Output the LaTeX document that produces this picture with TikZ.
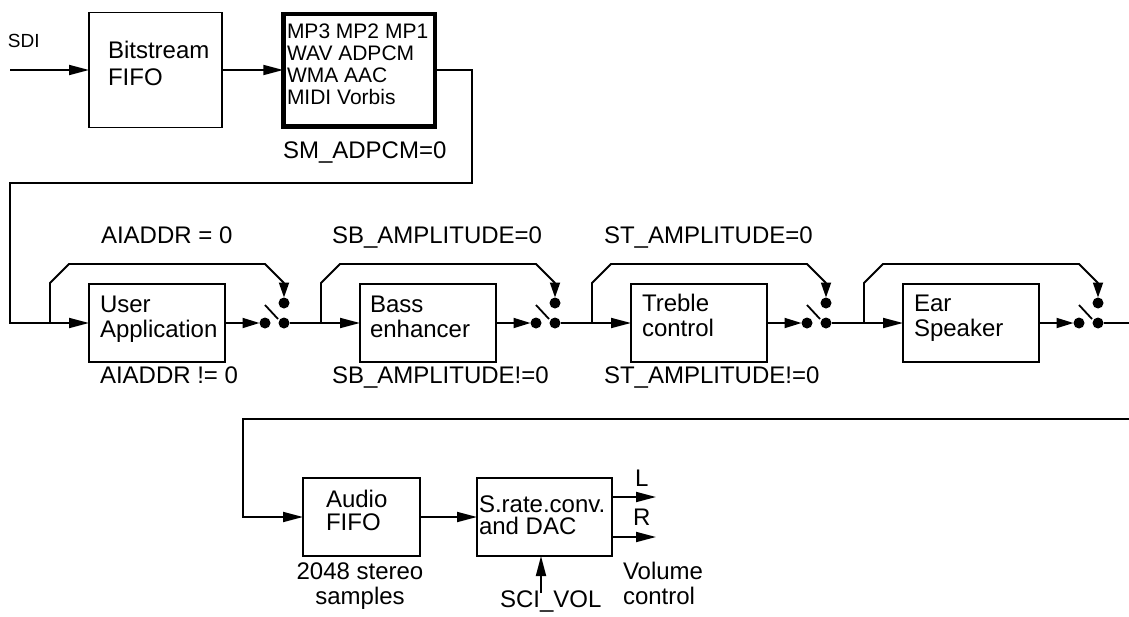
\documentclass[tikz,border=0pt]{standalone}
\usepackage{fontspec}
\setmainfont{Liberation Sans}
\usetikzlibrary{arrows.meta,calc}
\begin{document}
\begin{tikzpicture}[x=1pt,y=-1pt,line width=1.8pt,
  arr/.style={-{Triangle[length=20pt,width=10pt]}},
  darr/.style={-{Triangle[length=15pt,width=10pt]}},
  sarr/.style={-{Triangle[length=17pt,width=10pt]}},
  blk/.style={draw,line width=1.8pt,inner sep=0pt,outer sep=0pt,minimum width=136pt,minimum height=78pt},
  dot/.style={circle,fill=black,draw=none,inner sep=0pt,outer sep=0pt,minimum size=11pt},
  txt/.style={inner sep=0pt,outer sep=0pt,align=left,anchor=base west,font=\fontsize{24}{25}\selectfont},
  lbl/.style={inner sep=0pt,outer sep=0pt,anchor=base west,font=\fontsize{24}{25}\selectfont}]
\useasboundingbox (0,0) rectangle (1129,616);

% ---- top row ----
\coordinate (sdiin) at (10,70);
\node[lbl,font=\fontsize{19}{20}\selectfont] (sdi) at (8,47) {SDI};
\node[blk,minimum width=133pt,minimum height=115pt] (bf) at (155.5,70) {};
\node[txt,font=\fontsize{24}{27}\selectfont] (bft) at (108,85) {Bitstream\\FIFO};
\node[blk,line width=4.5pt,minimum width=151.5pt,minimum height=112.5pt] (codec) at (359,70) {};
\node[txt,font=\fontsize{21}{21.8}\selectfont] (codect) at (287,104) {MP3 MP2 MP1\\WAV ADPCM\\WMA AAC\\MIDI Vorbis};
\node[lbl] (sm) at (283,158) {SM\_ADPCM=0};
\draw[arr] (sdiin) -- (bf);
\draw[arr] (bf) -- (codec);

% ---- processing stages ----
\foreach \X/\n in {89/1,360/2,631/3,903/4}{
  \node[blk] (b\n) at (\X+68,323) {};
  \node[dot] (dL\n) at (\X+176,323) {};
  \node[dot] (dR\n) at (\X+195,323) {};
  \node[dot] (dU\n) at (\X+195,303) {};
  \coordinate (j\n) at (\X-39,323);
  \draw[sarr] (b\n.east) -- (dL\n.west);
  \draw (\X+176,305) -- (\X+189,319);
  \draw[darr] (j\n) -- (\X-39,283) -- (\X-20,264) -- (\X+176,264) -- (\X+195,283) -- (dU\n.north);
}
\node[txt] (t1) at (100,337) {User\\Application};
\node[txt] (t2) at (370,337) {Bass\\enhancer};
\node[txt] (t3) at (642,336) {Treble\\control};
\node[txt] (t4) at (914,336) {Ear\\Speaker};

\node[lbl] (l1a) at (101,243) {AIADDR = 0};
\node[lbl] (l1b) at (100,383) {AIADDR != 0};
\node[lbl] (l2a) at (332,243) {SB\_AMPLITUDE=0};
\node[lbl] (l2b) at (332,383) {SB\_AMPLITUDE!=0};
\node[lbl] (l3a) at (604,243) {ST\_AMPLITUDE=0};
\node[lbl] (l3b) at (604,383) {ST\_AMPLITUDE!=0};

\draw[arr] (codec.east) -- (472,70) -- (472,183) -- (10,183) -- (10,323) -- (b1);
\draw[arr] (dR1) -- (b2);
\draw[arr] (dR2) -- (b3);
\draw[arr] (dR3) -- (b4);
\coordinate (out) at (1129,323);
\draw (dR4) -- (out);

% ---- bottom row ----
\coordinate (rin) at (1129,419);
\node[blk,minimum width=117pt] (af) at (361.5,517) {};
\node[txt,font=\fontsize{24}{23}\selectfont] (aft) at (326,530) {Audio\\FIFO};
\node[blk,minimum width=135pt] (dac) at (544.5,517) {};
\node[txt,font=\fontsize{24}{22}\selectfont] (dact) at (479,534) {S.rate.conv.\\and DAC};
\draw[arr] (rin) -- (243,419) -- (243,517) -- (af);
\draw[arr] (af) -- (dac);
\coordinate (Lend) at (656,497);
\coordinate (Rend) at (656,537);
\draw[arr] (dac.east |- Lend) -- (Lend);
\draw[arr] (dac.east |- Rend) -- (Rend);
\node[lbl] (L) at (635,486) {L};
\node[lbl] (R) at (633,525) {R};
\coordinate (vin) at (541,593);
\draw[arr] (vin) -- (vin |- dac.south);
\node[lbl] (sci) at (500,607) {SCI\_VOL};
\node[txt,align=center,anchor=base] (ss) at (360,604) {2048 stereo\\samples};
\node[txt] (vc) at (623,604) {Volume\\control};
\end{tikzpicture}
\end{document}
